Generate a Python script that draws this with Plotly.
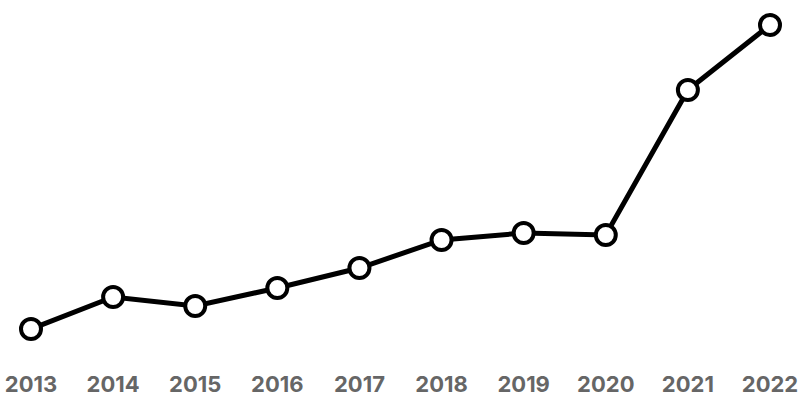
import plotly.graph_objects as go

years = [2013, 2014, 2015, 2016, 2017, 2018, 2019, 2020, 2021, 2022]
values = [71, 103, 94, 112, 132, 160, 167, 165, 310, 375]
tick_labels = [str(y) for y in years]

fig = go.Figure()
fig.add_trace(
    go.Scatter(
        x=years,
        y=values,
        mode="lines+markers",
        line=dict(color="black", width=5),
        marker=dict(size=20, color="white", line=dict(color="black", width=4)),
        cliponaxis=False,
        hoverinfo="x+y",
    )
)

fig.update_layout(
    width=805,
    height=402,
    plot_bgcolor="white",
    paper_bgcolor="white",
    margin=dict(l=31, r=35, t=25, b=73),
    showlegend=False,
    font=dict(family="Inter, sans-serif"),
)
fig.update_xaxes(
    range=[2013, 2022],
    tickvals=years,
    ticktext=tick_labels,
    showgrid=False,
    zeroline=False,
    showline=False,
    ticks="",
    automargin=False,
    ticklabelstandoff=40,
    tickfont=dict(size=22, color="#666666", weight="bold"),
)
fig.update_yaxes(
    range=[71, 375],
    visible=False,
    automargin=False,
)

# drop the default page margin so the figure sits at the window's corner
fig.write_html(
    "out.html",
    config={"displayModeBar": False},
    post_script="document.body.style.margin='0';document.body.style.overflow='hidden';",
)
